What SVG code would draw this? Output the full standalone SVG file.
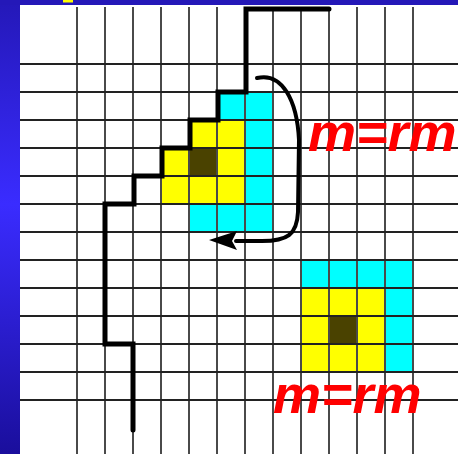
<svg xmlns="http://www.w3.org/2000/svg" width="458" height="454" viewBox="0 0 458 454">
<defs>
<linearGradient id="side" x1="0" y1="0" x2="0" y2="1">
<stop offset="0" stop-color="#2418b8"/>
<stop offset="0.45" stop-color="#3a2cff"/>
<stop offset="1" stop-color="#1a0e9c"/>
</linearGradient>
</defs>
<style>
.cy{fill:#00ffff}
.ye{fill:#ffff00}
.dk{fill:#4a4200}
.vg{stroke:#4a4a4a;stroke-width:2}
.hg{stroke:#222;stroke-width:2}
.lbl{font-family:"Liberation Sans",Arial,sans-serif;font-weight:bold;font-style:italic;font-size:54px;fill:#ff0000}
</style>
<rect x="0" y="0" width="458" height="454" fill="#fff"/>
<rect x="0" y="0" width="20" height="454" fill="url(#side)"/>
<rect x="0" y="0" width="458" height="5" fill="#2418b8"/>
<rect x="63" y="0" width="10" height="2.5" fill="#ffff00"/>

<g id="upper-cells">
<rect class="cy" x="217" y="92" width="56" height="28"/>
<rect class="cy" x="245" y="120" width="28" height="112"/>
<rect class="cy" x="189" y="204" width="84" height="28"/>
<rect class="ye" x="189" y="120" width="56" height="28"/>
<rect class="ye" x="161" y="148" width="84" height="56"/>
<rect class="dk" x="189" y="148" width="28" height="28"/>
</g>
<g id="lower-cells">
<rect class="cy" x="301" y="260" width="112" height="28"/>
<rect class="cy" x="385" y="288" width="28" height="84"/>
<rect class="ye" x="301" y="288" width="84" height="84"/>
<rect class="dk" x="329" y="316" width="28" height="28"/>
</g>

<g id="grid">
<line class="vg" x1="77" y1="7" x2="77" y2="454"/>
<line class="vg" x1="105" y1="7" x2="105" y2="454"/>
<line class="vg" x1="133" y1="7" x2="133" y2="454"/>
<line class="vg" x1="161" y1="7" x2="161" y2="454"/>
<line class="vg" x1="189" y1="7" x2="189" y2="454"/>
<line class="vg" x1="217" y1="7" x2="217" y2="454"/>
<line class="vg" x1="245" y1="7" x2="245" y2="454"/>
<line class="vg" x1="273" y1="7" x2="273" y2="454"/>
<line class="vg" x1="301" y1="7" x2="301" y2="454"/>
<line class="vg" x1="329" y1="7" x2="329" y2="454"/>
<line class="vg" x1="357" y1="7" x2="357" y2="454"/>
<line class="vg" x1="385" y1="7" x2="385" y2="454"/>
<line class="vg" x1="413" y1="7" x2="413" y2="454"/>
<line class="hg" x1="20" y1="64" x2="458" y2="64"/>
<line class="hg" x1="20" y1="92" x2="458" y2="92"/>
<line class="hg" x1="20" y1="120" x2="458" y2="120"/>
<line class="hg" x1="20" y1="148" x2="458" y2="148"/>
<line class="hg" x1="20" y1="176" x2="458" y2="176"/>
<line class="hg" x1="20" y1="204" x2="458" y2="204"/>
<line class="hg" x1="20" y1="232" x2="458" y2="232"/>
<line class="hg" x1="20" y1="260" x2="458" y2="260"/>
<line class="hg" x1="20" y1="288" x2="458" y2="288"/>
<line class="hg" x1="20" y1="316" x2="458" y2="316"/>
<line class="hg" x1="20" y1="344" x2="458" y2="344"/>
<line class="hg" x1="20" y1="372" x2="458" y2="372"/>
<line class="hg" x1="20" y1="400" x2="458" y2="400"/>
</g>

<g id="connectors">
<path id="staircase" d="M329,9 L246,9 L246,92 L218,92 L218,120 L190,120 L190,148 L162,148 L162,176 L134,176 L134,204 L105,204 L105,344 L133,344 L133,430" fill="none" stroke="#000" stroke-width="5" stroke-linejoin="miter" stroke-linecap="round"/>
<path id="rotate-arrow" d="M257,78 C282,72 297,100 299,140 L298,212 C297,235 287,241 262,241 L236,241" fill="none" stroke="#000" stroke-width="4" stroke-linecap="round"/>
<polygon points="209,240 237,231 232,241 237,250" fill="#000"/>
</g>

<g id="labels">
<text class="lbl" x="308" y="151">m=rm</text>
<text class="lbl" x="273" y="413">m=rm</text>
</g>
</svg>
